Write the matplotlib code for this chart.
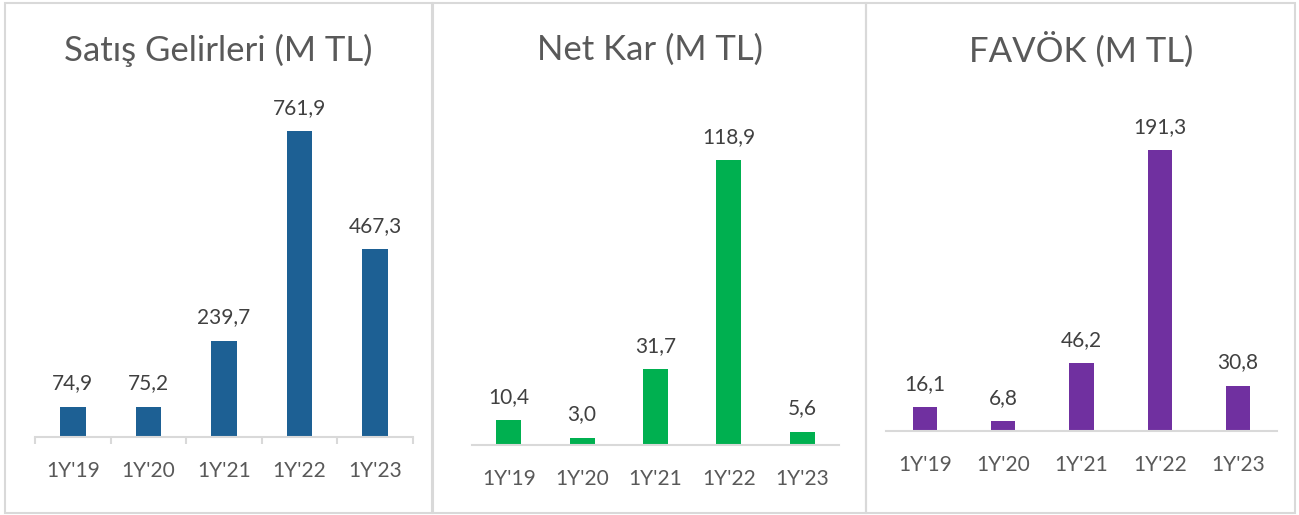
import numpy as np
import matplotlib.pyplot as plt
from matplotlib.patches import Rectangle

plt.rcParams['font.family'] = ['Lato', 'DejaVu Sans']

years = ["1Y'19", "1Y'20", "1Y'21", "1Y'22", "1Y'23"]
satis = [74.9, 75.2, 239.7, 761.9, 467.3]
net_kar = [10.4, 3.0, 31.7, 118.9, 5.6]
favok = [16.1, 6.8, 46.2, 191.3, 30.8]

W, H = 1299, 515
fig = plt.figure(figsize=(W / 100, H / 100), dpi=100)

def fx(px):
    return px / W

def fy(py):
    return 1 - py / H

# panel frames (pixel coords: x0, y0, x1, y1)
frames = [(5, 3, 432, 513), (433, 3, 866, 513), (866, 3, 1295, 513)]
for x0, y0, x1, y1 in frames:
    fig.patches.append(Rectangle((fx(x0), fy(y1)), fx(x1 - x0), (y1 - y0) / H,
                                 transform=fig.transFigure, fill=False,
                                 edgecolor='#d9d9d9', linewidth=1.5))

panels = [
    # title, values, color, axis x0, x1, baseline, top, ymax, bar width, title x, tick marks
    ("Satış Gelirleri (M TL)", satis, '#1d6094', 35, 413, 437, 80, 889, 0.34, 218, True),
    ("Net Kar (M TL)", net_kar, '#00b050', 472, 839, 445, 80, 152.3, 0.34, 650, False),
    ("FAVÖK (M TL)", favok, '#7030a0', 886, 1277, 431, 80, 239, 0.31, 1081, False),
]

for title, vals, color, x0, x1, base, top, ymax, bw, tx, marks in panels:
    ax = fig.add_axes([fx(x0), fy(base), fx(x1 - x0), (base - top) / H])
    x = np.arange(len(years))
    bars = ax.bar(x, vals, width=bw, color=color)
    ax.set_xlim(-0.5, 4.5)
    ax.set_ylim(0, ymax)
    for s in ['top', 'right', 'left']:
        ax.spines[s].set_visible(False)
    ax.spines['bottom'].set_color('#d9d9d9')
    ax.spines['bottom'].set_linewidth(1.5)
    ax.set_yticks([])
    ax.set_xticks(x)
    ax.set_xticklabels(years)
    ax.tick_params(axis='x', length=0, pad=17, labelsize=15, labelcolor='#595959')
    if marks:
        ax.set_xticks(np.arange(-0.5, 5, 1), minor=True)
        ax.tick_params(axis='x', which='minor', length=5, width=1.5, color='#d9d9d9')
    for b, v in zip(bars, vals):
        ax.annotate(f"{v:.1f}".replace('.', ','), (b.get_x() + b.get_width() / 2, v),
                    xytext=(0, 12.5), textcoords='offset points',
                    ha='center', va='baseline', fontsize=15, color='#404040')
    fig.text(fx(tx), fy(50), title, ha='center', va='center', fontsize=25, color='#595959')

fig.savefig('out.png', dpi=100)
